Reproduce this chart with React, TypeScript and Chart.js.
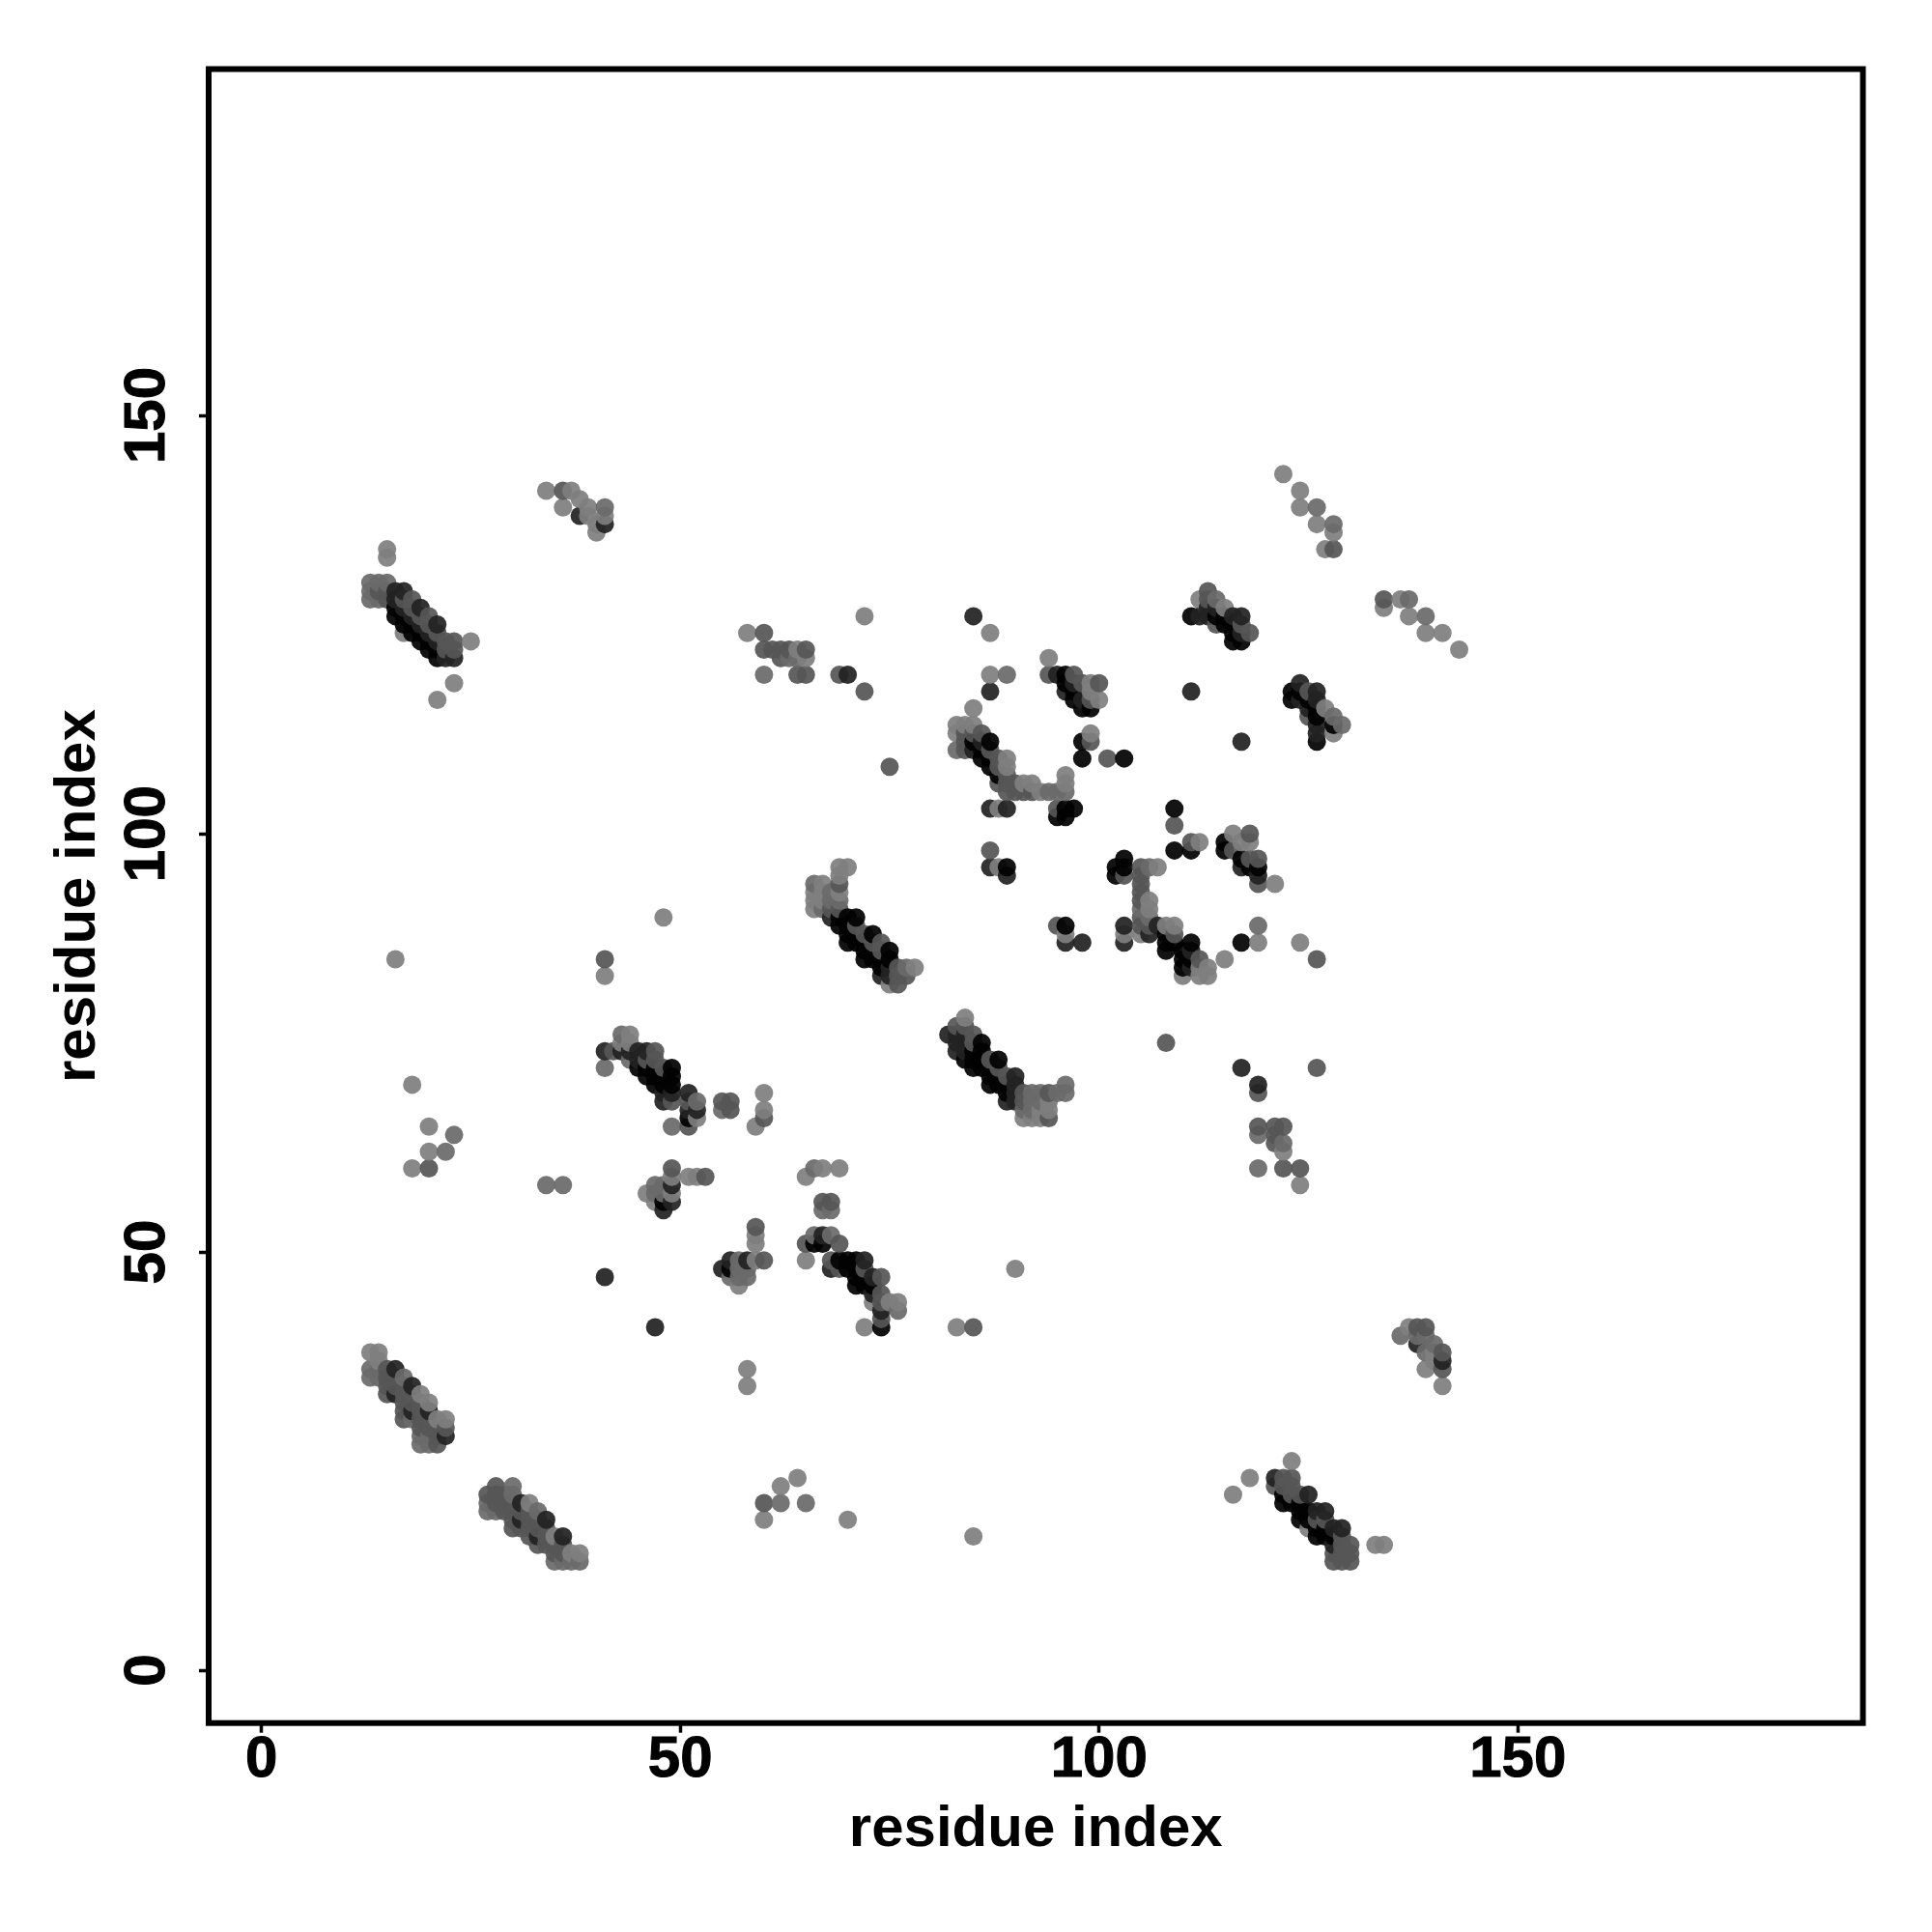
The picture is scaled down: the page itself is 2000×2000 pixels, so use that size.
import React, { useEffect, useRef } from "react";
import { Chart, registerables } from "chart.js";

Chart.register(...registerables);

type P = [number, number, number];

const tickValues = [0, 50, 100, 150];
const axisTitle = "residue index";
// levels: 0 light, 1 mid-light, 2 mid, 3 dark, 4 near-black
const levelGrays = [127, 106, 86, 34, 2];

const helixTopLeft: P[] = [
  [15,134,0],[15,133,0],[17,124,0],[13,130,1],[13,129,1],[13,128,1],[14,130,1],[15,130,1],[14,128,1],[14,129,2],[15,129,2],[15,128,2],
  [16,129,3],[16,128,3],[17,129,3],[17,128,2],[18,128,2],[18,127,2],[19,127,3],[19,126,2],[20,126,2],[20,125,2],[21,125,3],[21,124,2],
  [16,127,4],[16,126,4],[17,127,3],[17,126,4],[17,125,4],[18,126,3],[18,125,4],[18,124,4],[19,125,3],[19,124,4],[19,123,4],
  [20,124,3],[20,123,4],[20,122,4],[21,123,3],[21,122,4],[21,121,4],[22,123,2],[22,122,2],[22,121,3],[23,123,2],[23,122,2],[23,121,3],
  [25,123,0],[23,118,0],[21,116,0],
];
const strandTopCenter: P[] = [
  [34,141,0],[36,141,2],[37,141,0],[36,139,0],[38,138,3],[38,140,0],[39,139,0],[39,138,0],[41,137,3],[41,139,1],[41,138,0],[40,137,0],[40,136,0],
];
const helixBottomLeft: P[] = [
  [13,38,0],[14,38,0],[14,37,0],[13,36,1],[13,35,1],[14,36,1],[14,35,1],[15,35,2],[15,34,2],[15,33,2],[16,35,2],[16,34,2],[16,33,3],
  [15,36,2],[16,36,3],[17,35,1],[17,33,2],[17,32,2],[17,31,2],[17,30,2],[17,34,2],[18,34,3],[18,33,2],[18,32,2],[18,31,3],[18,30,1],
  [19,32,2],[19,31,2],[19,30,2],[19,29,2],[19,28,1],[19,27,1],[20,31,3],[20,30,2],[20,29,2],[20,28,1],[20,27,1],[21,29,2],[21,28,2],[21,27,2],
  [22,29,2],[22,28,3],[19,33,0],[20,32,0],[21,30,0],[22,30,0],
];
const strandBottomLeft: P[] = [
  [27,21,2],[27,20,1],[27,19,1],[28,22,2],[28,21,2],[28,20,2],[28,19,1],[29,21,2],[29,20,2],[29,19,2],[30,22,1],[30,21,1],[30,20,2],[30,19,2],[30,18,2],[30,17,2],
  [31,20,3],[31,19,2],[31,18,3],[31,17,2],[32,19,2],[32,18,2],[32,17,2],[32,16,2],[32,20,0],[33,18,2],[33,17,2],[33,16,3],[33,15,2],[33,19,1],
  [34,17,2],[34,16,2],[34,15,2],[34,18,3],[35,15,2],[35,14,2],[35,13,1],[35,16,0],[36,15,2],[36,14,2],[36,13,1],[36,16,3],[37,13,1],[38,13,1],[37,14,0],[38,14,0],
];
const clusterBetaA: P[] = [
  [41,74,3],[41,72,1],[42,74,2],[43,76,1],[44,76,0],[43,75,0],[44,75,0],[43,74,3],[44,74,3],[44,73,1],[45,74,3],[46,74,3],[47,74,2],
  [45,73,3],[46,73,2],[47,73,2],[48,72,2],[45,72,4],[46,72,4],[46,71,4],[47,72,4],[47,71,4],[47,70,4],[48,71,4],[48,70,4],[48,69,3],[48,68,3],
  [49,72,4],[49,71,4],[49,70,4],[49,69,3],[49,68,2],[51,65,2],[49,65,1],[51,69,3],[51,68,2],[51,67,3],[52,67,3],[51,66,4],[52,66,0],[52,68,1],
  [55,68,2],[56,68,2],[55,67,1],[56,67,2],[60,69,0],[60,66,2],[60,67,0],[59,65,0],
];
const clusterBetaB: P[] = [
  [46,57,0],[47,58,1],[47,57,1],[47,56,0],[48,58,1],[48,57,1],[48,55,3],[48,56,4],[49,56,3],[49,57,0],[49,58,3],[49,59,0],[49,60,2],[51,59,0],[52,59,0],[53,59,2],
];
const clusterBetaC: P[] = [
  [55,48,3],[56,47,1],[56,48,4],[56,49,3],[57,49,1],[57,48,1],[57,47,1],[57,46,0],[58,49,3],[58,48,1],[58,47,1],[59,49,0],[60,49,2],[59,51,0],[59,52,0],[59,53,2],[41,47,3],
];
const clusterBetaD: P[] = [
  [65,59,0],[66,60,1],[67,60,0],[69,60,0],[67,55,1],[68,55,1],[67,56,2],[68,56,2],[65,51,2],[66,52,1],[67,52,3],[68,52,1],[66,51,4],[67,51,4],[69,51,2],[65,49,0],
  [68,49,2],[68,48,3],[69,48,2],[69,49,4],[70,49,4],[71,49,4],[72,49,3],[70,48,4],[71,48,4],[72,48,2],[71,47,4],[72,47,4],[73,47,3],[71,46,4],[72,46,4],[73,46,4],[74,47,2],
  [73,45,3],[74,45,2],[73,44,0],[74,44,2],[75,44,0],[76,44,0],[76,43,1],[74,43,3],[74,42,2],[72,41,0],[74,41,4],
];
const clusterHelixMid: P[] = [
  [66,94,1],[67,94,0],[66,93,0],[66,92,0],[66,91,0],[67,93,0],[67,92,0],[67,91,1],[68,93,1],[68,92,1],[68,91,2],[69,96,0],[70,96,0],[69,95,0],[69,94,2],[69,93,0],[69,92,1],[69,91,2],
  [68,90,3],[69,90,4],[69,89,4],[70,90,4],[71,90,4],[70,89,4],[70,88,4],[70,87,4],[71,89,2],[71,88,4],[71,87,4],[72,88,2],[72,87,4],[72,86,4],[72,85,4],
  [73,88,4],[73,87,2],[73,86,4],[73,85,4],[74,87,2],[74,86,2],[74,85,4],[74,84,4],[74,83,3],[75,86,4],[75,85,4],[75,84,3],[75,83,3],[75,82,0],[76,84,2],[76,83,2],[76,82,2],[77,84,1],[77,83,2],[78,84,0],
];
const clusterLongDiag: P[] = [
  [82,76,3],[83,77,2],[83,76,3],[83,75,3],[83,74,3],[84,76,3],[84,75,3],[84,74,3],[84,73,4],[84,77,2],[84,78,0],[85,76,2],[85,75,2],[85,74,4],[85,73,4],[85,72,4],
  [86,75,4],[86,74,4],[86,73,4],[86,72,4],[87,73,2],[87,72,4],[87,71,4],[87,70,4],[88,72,2],[88,73,4],[88,71,4],[88,70,4],[89,71,2],[89,70,4],[89,69,4],[89,68,3],
  [90,71,3],[90,70,3],[90,69,3],[90,68,3],[91,67,1],[91,66,0],[91,68,2],[91,69,2],[92,67,1],[92,66,0],[92,68,1],[92,69,1],[93,67,0],[93,66,0],[93,68,1],[93,69,1],
  [94,66,2],[94,67,0],[94,68,0],[94,69,2],[95,69,1],[96,69,1],[96,70,1],
];
const clusterRingUpper: P[] = [
  [83,113,0],[84,113,0],[83,112,0],[83,110,1],[84,112,2],[84,111,2],[84,110,2],[85,115,0],[85,113,0],[85,112,2],[85,110,3],[85,111,4],[86,112,2],[86,111,3],[86,110,4],[86,109,4],
  [87,111,4],[87,110,2],[87,109,4],[87,108,4],[88,109,2],[88,108,2],[88,107,4],[88,106,2],[89,107,2],[89,106,2],[89,105,2],[89,109,0],[89,108,0],[90,105,2],[90,106,2],[91,105,2],[91,106,0],[92,105,2],[92,106,0],[93,105,0],[94,105,1],[95,105,1],[96,105,1],[96,106,0],[96,107,0],
  [87,103,3],[88,103,0],[89,103,3],[95,103,2],[96,103,4],[97,103,4],[95,102,4],[96,102,4],
  [87,98,2],[87,96,3],[88,96,0],[89,96,4],[89,95,3],
  [94,121,0],[94,119,2],[95,119,3],[97,119,2],[96,119,4],[96,118,4],[96,117,3],[97,118,3],[97,117,4],[97,116,4],[98,118,2],[98,116,3],[98,115,4],[99,115,4],[99,116,2],[99,117,0],[99,118,0],[100,118,2],[100,116,0],
  [98,111,4],[99,111,2],[99,112,0],[98,109,4],[101,109,2],[103,109,4],[87,124,0],[85,126,3],[87,119,0],[89,119,1],[87,117,3],[75,108,2],
];
const clusterRingLower: P[] = [
  [95,89,2],[96,89,4],[96,88,0],[96,87,3],[98,87,3],[102,96,4],[102,95,4],[103,97,4],[103,96,4],[103,95,2],[103,89,3],[103,88,0],[103,87,3],
  [105,96,2],[106,96,1],[107,96,0],[105,95,2],[105,94,2],[105,93,2],[105,92,2],[105,91,1],[105,90,2],[105,89,2],[105,88,0],[106,92,0],[106,91,0],[106,90,1],[106,89,2],[106,88,3],[107,89,3],
  [108,88,4],[108,87,4],[108,86,4],[108,89,0],[109,88,2],[109,87,4],[109,89,0],[110,86,4],[110,85,4],[110,84,4],[110,83,0],[111,87,4],[111,86,3],[111,85,4],[111,84,3],[112,85,2],[112,84,0],[112,83,0],[113,84,0],[113,83,0],[115,85,0],
  [109,103,4],[109,101,2],[109,98,4],[111,98,4],[111,99,2],[112,99,0],[115,99,4],[115,98,4],[116,98,2],[117,97,4],[117,96,3],[118,97,2],[118,96,4],[119,96,4],[119,95,3],[119,94,2],[119,97,2],[116,100,0],[118,100,2],[117,99,0],[118,99,0],[121,94,0],
  [119,89,1],[119,87,0],[117,87,4],[124,87,0],[126,85,2],[108,75,2],
];
const clusterCornerUpper: P[] = [
  [112,128,0],[111,126,4],[112,126,3],[113,129,2],[113,128,2],[113,127,3],[113,126,3],[114,128,1],[114,127,3],[114,126,4],[114,125,2],[115,126,4],[115,125,4],[115,127,0],[116,126,3],[117,126,3],[116,125,4],[117,125,2],[116,124,4],[117,124,3],[118,124,2],[116,123,4],[117,123,4],
  [111,117,3],[117,111,3],
  [123,117,4],[123,116,4],[124,118,3],[124,117,4],[124,116,3],[125,117,2],[125,116,4],[125,115,3],[125,114,2],[126,117,3],[126,116,3],[126,115,4],[126,114,4],[126,113,3],[126,112,3],[126,111,4],[128,112,0],[128,113,4],[127,115,0],[128,114,1],[129,113,1],
];
const clusterCornerRight: P[] = [
  [122,143,0],[124,141,0],[124,139,0],[126,139,1],[126,137,0],[128,137,1],[128,136,0],[127,134,0],[128,134,2],
  [134,128,2],[134,127,0],[136,128,0],[137,128,1],[137,126,0],[139,126,1],[139,124,0],[141,124,0],[143,122,0],
];
const clusterBottomRight: P[] = [
  [116,21,0],[118,23,0],[123,25,0],[121,23,3],[122,23,2],[123,23,2],[121,22,2],[122,22,2],[123,22,2],[122,21,4],[122,20,4],[123,21,2],[123,20,4],[124,21,2],[125,21,3],[124,20,4],[124,19,4],[124,18,4],[125,19,4],[125,17,0],[125,18,4],
  [126,19,3],[126,18,2],[126,17,4],[126,16,4],[127,19,3],[127,18,2],[127,17,4],[127,16,4],[128,16,4],[128,17,3],[129,17,3],[128,15,3],[129,16,2],[129,15,2],[130,15,2],[128,14,2],[129,14,2],[130,14,2],[128,13,2],[129,13,2],[130,13,2],[133,15,0],[134,15,0],
];
const clusterRightLow: P[] = [
  [136,40,1],[137,41,0],[138,41,2],[139,41,2],[138,40,1],[139,40,1],[138,39,3],[140,39,1],[139,38,1],[140,38,0],[141,38,2],[140,37,0],[141,37,3],[141,36,2],[139,36,0],[141,34,0],
];
const isolatedLow: P[] = [
  [90,48,0],[83,41,0],[85,41,2],[47,41,3],[58,36,0],[58,34,0],[60,20,2],[62,22,0],[64,23,0],[62,20,1],[65,20,1],[60,18,0],[70,18,0],[85,16,0],
];
const isolatedLeft: P[] = [
  [34,58,1],[36,58,1],[48,90,0],[41,85,2],[41,83,0],[16,85,0],[18,70,0],[20,65,0],[23,64,1],[20,62,0],[22,62,1],[18,60,0],[20,60,2],
];
const isolatedTopMid: P[] = [
  [58,124,0],[60,124,2],[60,122,2],[61,122,2],[62,122,2],[63,122,2],[64,122,0],[65,122,2],[62,121,2],[63,121,1],[64,121,1],[65,121,0],[60,119,1],[64,119,2],[65,119,2],[69,119,2],[70,119,3],[72,117,2],[72,126,0],
];
const isolatedRightMid: P[] = [
  [117,72,3],[126,72,2],[119,70,3],[119,69,2],[119,65,2],[119,64,1],[121,65,2],[122,65,2],[121,64,2],[121,63,2],[122,63,1],[122,62,0],[122,60,2],[119,60,1],[124,60,2],[124,58,0],
];

const clusters: P[][] = [
  helixTopLeft, strandTopCenter, helixBottomLeft, strandBottomLeft, clusterBetaA, clusterBetaB, clusterBetaC, clusterBetaD,
  clusterHelixMid, clusterLongDiag, clusterRingUpper, clusterRingLower, clusterCornerUpper, clusterCornerRight,
  clusterBottomRight, clusterRightLow, isolatedLow, isolatedLeft, isolatedTopMid, isolatedRightMid,
];

const FONT = "'Liberation Sans', Arial, sans-serif";

export default function App() {
  const ref = useRef<HTMLCanvasElement>(null);
  useEffect(() => {
    document.body.style.margin = "0";
    const box = {
      id: "box",
      afterDatasetsDraw(c: any) {
        const { left, top, width, height } = c.chartArea;
        const g = c.ctx;
        g.save();
        g.strokeStyle = "#000";
        g.lineWidth = 6;
        g.strokeRect(left, top, width, height);
        g.restore();
      },
    };
    const color = (p: P) => {
      const v = levelGrays[p[2]];
      return `rgba(${v},${v},${v},0.93)`;
    };
    const ordered = clusters.map((cl) => [...cl].sort((a, b) => a[0] - b[0] || a[1] - b[1]));
    const chart = new Chart(ref.current!, {
      type: "scatter",
      data: {
        datasets: ordered.map((cl) => ({
          data: cl.map((p) => ({ x: p[0], y: p[1] })),
          backgroundColor: cl.map(color),
          borderWidth: 0,
          pointRadius: 9.5,
          pointHoverRadius: 9.5,
        })),
      },
      options: {
        animation: false,
        responsive: false,
        layout: { padding: { top: 71.5, right: 71.5, left: 0, bottom: 0 } },
        plugins: { legend: { display: false }, tooltip: { enabled: false } },
        scales: {
          x: {
            type: "linear",
            min: -6.3,
            max: 191.2,
            afterFit: (s: any) => { s.height = 216.3; },
            afterBuildTicks: (s: any) => { s.ticks = tickValues.map((value) => ({ value })); },
            border: { display: false },
            grid: { drawOnChartArea: false, drawTicks: true, tickLength: 10, tickWidth: 3.5, tickColor: "#000" },
            ticks: { maxRotation: 0, minRotation: 0, padding: -7, color: "#000", textStrokeColor: "#000", textStrokeWidth: 1, font: { family: FONT, weight: "bold", size: 60 } },
            title: { display: true, text: axisTitle, color: "#000", font: { family: FONT, weight: "bold", size: 60 }, padding: { top: 0, bottom: 70 } },
          },
          y: {
            type: "linear",
            min: -6.3,
            max: 191.4,
            afterFit: (s: any) => { s.width = 216; },
            afterBuildTicks: (s: any) => { s.ticks = tickValues.map((value) => ({ value })); },
            border: { display: false },
            grid: { drawOnChartArea: false, drawTicks: true, tickLength: 10, tickWidth: 3.5, tickColor: "#000" },
            ticks: { minRotation: 90, maxRotation: 90, crossAlign: "center", padding: 2.5, color: "#000", textStrokeColor: "#000", textStrokeWidth: 1, font: { family: FONT, weight: "bold", size: 60 } },
            title: { display: true, text: axisTitle, color: "#000", font: { family: FONT, weight: "bold", size: 60 }, padding: { top: 45, bottom: 0 } },
          },
        },
      },
      plugins: [box],
    } as any);
    return () => chart.destroy();
  }, []);
  return <canvas ref={ref} width={2000} height={2000} style={{ display: "block", width: 2000, height: 2000 }} />;
}
